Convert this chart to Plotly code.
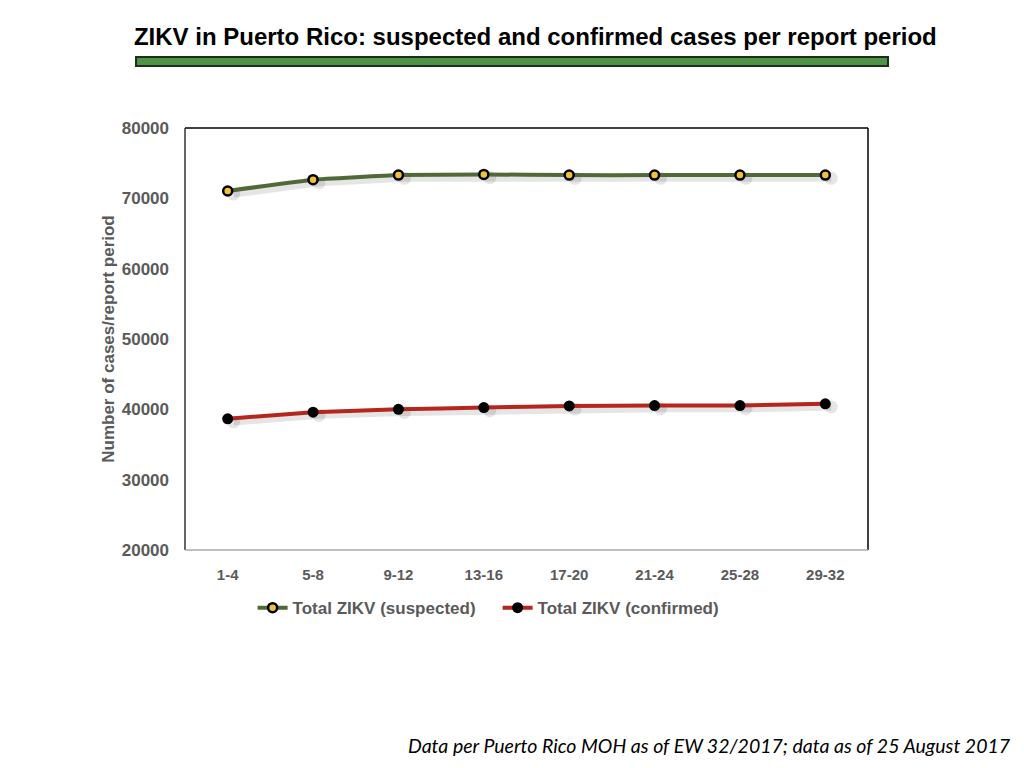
import plotly.graph_objects as go

# report periods (epi weeks)
periods = ['1-4', '5-8', '9-12', '13-16', '17-20', '21-24', '25-28', '29-32']
suspected = [71050, 72650, 73300, 73400, 73300, 73300, 73300, 73300]
confirmed = [38650, 39600, 40000, 40250, 40480, 40530, 40540, 40780]
y_ticks = [20000, 30000, 40000, 50000, 60000, 70000, 80000]

idx = list(range(len(periods)))

GREEN = '#4f6a36'
RED = '#b5261d'
GRAY = '#5a5a5a'

fig = go.Figure()

# soft drop shadow under both lines
for vals in (suspected, confirmed):
    fig.add_trace(go.Scatter(
        x=[i + 0.07 for i in idx],
        y=[v - 450 for v in vals],
        mode='lines+markers',
        line=dict(color='rgba(0,0,0,0.10)', width=7),
        marker=dict(color='rgba(0,0,0,0.10)', size=13),
        hoverinfo='skip',
        showlegend=False
    ))

fig.add_trace(go.Scatter(
    x=idx, y=suspected,
    mode='lines+markers',
    name='<b>Total ZIKV (suspected)</b>',
    line=dict(color=GREEN, width=4, shape='spline', smoothing=0.3),
    marker=dict(color='#f0c23c', size=9, line=dict(color='black', width=2.5))
))
fig.add_trace(go.Scatter(
    x=idx, y=confirmed,
    mode='lines+markers',
    name='<b>Total ZIKV (confirmed)</b>',
    line=dict(color=RED, width=4, shape='spline', smoothing=0.3),
    marker=dict(color='black', size=11)
))

# plot frame: dark left/top/right, light bottom
fig.add_shape(type='line', xref='paper', yref='paper', x0=0, x1=1, y0=1, y1=1,
              line=dict(color='black', width=1.5))
fig.add_shape(type='line', xref='paper', yref='paper', x0=1, x1=1, y0=0, y1=1,
              line=dict(color='black', width=1.5))
fig.add_shape(type='line', xref='paper', yref='paper', x0=0, x1=0, y0=0, y1=1,
              line=dict(color='#333333', width=1.5))
fig.add_shape(type='line', xref='paper', yref='paper', x0=0, x1=1, y0=0, y1=0,
              line=dict(color='#aaaaaa', width=1.5))

# green bar under the title
fig.add_shape(type='rect', xref='paper', yref='paper',
              x0=-0.0717, x1=1.0293, y0=1.147, y1=1.168,
              fillcolor='#4f9446', line=dict(color='#1c2e1a', width=2))

fig.add_annotation(
    text='Data per Puerto Rico MOH as of EW 32/2017; data as of 25 August 2017',
    xref='paper', yref='paper', x=1.212, y=-0.464,
    xanchor='right', yanchor='middle', showarrow=False,
    font=dict(family='Lato', size=19.5, color='black', style='italic')
)

fig.update_layout(
    width=1016, height=760,
    margin=dict(l=177, r=156, t=120, b=218),
    paper_bgcolor='white', plot_bgcolor='white',
    title=dict(
        text='<b>ZIKV in Puerto Rico: suspected and confirmed cases per report period</b>',
        x=0.519, y=0.962, xanchor='center', yanchor='middle', xref='container',
        font=dict(family='Liberation Sans', size=24, color='black')
    ),
    xaxis=dict(
        tickmode='array', tickvals=idx, ticktext=['<b>%s</b>' % p for p in periods],
        range=[-0.5, 7.5], showgrid=False, zeroline=False, showline=False,
        ticks='', ticklabelstandoff=14,
        tickfont=dict(family='Liberation Sans', size=15, color=GRAY)
    ),
    yaxis=dict(
        range=[20000, 80000], tickmode='array', tickvals=y_ticks,
        ticktext=['<b>%d</b>' % t for t in y_ticks],
        showgrid=False, zeroline=False, showline=False,
        ticks='', ticklabelstandoff=15,
        tickfont=dict(family='Liberation Sans', size=17, color=GRAY),
        title=dict(text='<b>Number of cases/report period</b>', standoff=2,
                   font=dict(family='Liberation Sans', size=17, color=GRAY))
    ),
    legend=dict(
        orientation='h', x=0.099, y=-0.095, xanchor='left', yanchor='top',
        font=dict(family='Liberation Sans', size=17, color=GRAY),
        itemwidth=30, entrywidth=200, entrywidthmode='pixels', tracegroupgap=0
    ),
    showlegend=True
)

fig.write_html('out.html')
